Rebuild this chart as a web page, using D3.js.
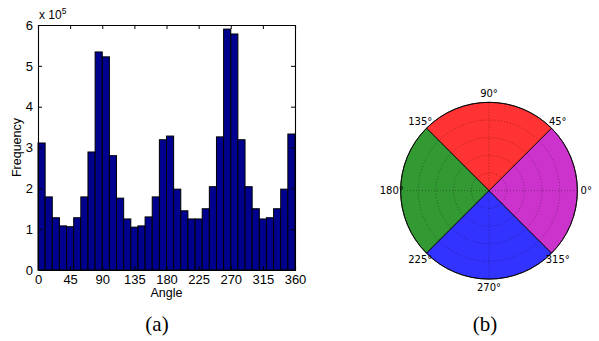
<!DOCTYPE html>
<html>
<head>
<meta charset="utf-8">
<script src="https://cdn.jsdelivr.net/npm/d3@7"></script>
<style>
  body { margin: 0; background: #fff; }
  svg { display: block; }
</style>
</head>
<body>
<div id="chart"></div>
<script>
// histogram of angles, 10 degree bins, values in units of 1e5
var binStarts = d3.range(0, 360, 10);
var freqs = [3.11, 1.79, 1.28, 1.08, 1.06, 1.28, 1.79, 2.89, 5.34, 5.22,
             2.80, 1.76, 1.25, 1.05, 1.08, 1.30, 1.79, 3.19, 3.28, 1.98,
             1.45, 1.25, 1.25, 1.50, 2.04, 3.26, 5.90, 5.78, 3.19, 2.04,
             1.50, 1.25, 1.28, 1.50, 1.98, 3.33];
var xTicks = [0, 45, 90, 135, 180, 225, 270, 315, 360];
var yTicks = [0, 1, 2, 3, 4, 5, 6];

// polar sectors
var sectorStarts = [-45, 45, 135, 225];
var sectorColors = ["#cc33cc", "#ff3333", "#339933", "#3333ff"];
var polarAngles = [0, 45, 90, 135, 180, 225, 270, 315];
var ringFracs = [0.2, 0.4, 0.6, 0.8];

var svg = d3.select("#chart").append("svg")
  .attr("width", 599)
  .attr("height", 341);

// ---- (a) histogram ----
var box = {left: 38, right: 295, top: 25, bottom: 270};

var x = d3.scaleLinear().domain([0, 360]).range([box.left, box.right]);
var y = d3.scaleLinear().domain([0, 6]).range([box.bottom, box.top]);

var hist = svg.append("g");

hist.selectAll("rect.bar")
  .data(freqs)
  .enter()
  .append("rect")
  .attr("class", "bar")
  .attr("x", (d, i) => x(binStarts[i]))
  .attr("y", d => y(d))
  .attr("width", x(10) - x(0))
  .attr("height", d => y(0) - y(d))
  .attr("fill", "#00008f")
  .attr("stroke", "#000")
  .attr("stroke-width", 1);

var tickFont = "Liberation Sans, Arial, sans-serif";

// bottom and top axes, ticks inward
var bottomAxis = d3.axisBottom(x).tickValues(xTicks).tickSize(-4).tickPadding(5);
var gx = hist.append("g")
  .attr("transform", `translate(0, ${box.bottom})`)
  .call(bottomAxis);
var topAxis = d3.axisTop(x).tickValues(xTicks).tickSize(-4).tickFormat("");
var gxt = hist.append("g")
  .attr("transform", `translate(0, ${box.top})`)
  .call(topAxis);

var leftAxis = d3.axisLeft(y).tickValues(yTicks).tickSize(-4).tickPadding(5)
  .tickFormat(d3.format("d"));
var gy = hist.append("g")
  .attr("transform", `translate(${box.left}, 0)`)
  .call(leftAxis);
var rightAxis = d3.axisRight(y).tickValues(yTicks).tickSize(-4).tickFormat("");
var gyr = hist.append("g")
  .attr("transform", `translate(${box.right}, 0)`)
  .call(rightAxis);

[gx, gxt, gy, gyr].forEach(function(g) {
  g.selectAll("path.domain").attr("stroke", "#000").attr("stroke-width", 1.1);
  g.selectAll(".tick line").attr("stroke", "#000");
  g.selectAll(".tick text")
    .attr("fill", "#000")
    .style("font-family", tickFont)
    .style("font-size", "13px");
});
gx.selectAll(".tick line").filter(d => d === 0 || d === 360).remove();
gxt.selectAll(".tick line").filter(d => d === 0 || d === 360).remove();
gy.selectAll(".tick line").filter(d => d === 0 || d === 6).remove();
gyr.selectAll(".tick line").filter(d => d === 0 || d === 6).remove();

// exponent label
var expo = hist.append("text")
  .attr("x", box.left + 1)
  .attr("y", box.top - 6)
  .style("font-family", tickFont)
  .style("font-size", "12px")
  .attr("fill", "#000");
expo.append("tspan").text("x 10");
expo.append("tspan").attr("dy", -5).style("font-size", "8.5px").text("5");

hist.append("text")
  .attr("x", (box.left + box.right) / 2)
  .attr("y", 297)
  .attr("text-anchor", "middle")
  .style("font-family", tickFont)
  .style("font-size", "12.5px")
  .text("Angle");

hist.append("text")
  .attr("transform", `translate(21, ${(box.top + box.bottom) / 2}) rotate(-90)`)
  .attr("text-anchor", "middle")
  .style("font-family", tickFont)
  .style("font-size", "12.5px")
  .text("Frequency");

// ---- (b) polar plot ----
var cx = 489, cy = 190.7, R = 88.4;
var polar = svg.append("g").attr("transform", `translate(${cx}, ${cy})`);

// math angle (deg, counterclockwise from east) -> d3.arc angle (rad, clockwise from north)
var toArc = deg => (90 - deg) * Math.PI / 180;
var arc = d3.arc().innerRadius(0).outerRadius(R);

polar.selectAll("path.sector")
  .data(sectorStarts)
  .enter()
  .append("path")
  .attr("class", "sector")
  .attr("d", d => arc({startAngle: toArc(d + 90), endAngle: toArc(d)}))
  .attr("fill", (d, i) => sectorColors[i])
  .attr("stroke", "#000")
  .attr("stroke-width", 0.8);

// dotted grid
polar.selectAll("circle.ring")
  .data(ringFracs)
  .enter()
  .append("circle")
  .attr("class", "ring")
  .attr("r", d => d * R)
  .attr("fill", "none")
  .attr("stroke", "#000")
  .attr("stroke-opacity", 0.55)
  .attr("stroke-width", 0.6)
  .attr("stroke-dasharray", "1,2");

polar.selectAll("line.spoke")
  .data(polarAngles)
  .enter()
  .append("line")
  .attr("class", "spoke")
  .attr("x1", 0).attr("y1", 0)
  .attr("x2", d => R * Math.cos(d * Math.PI / 180))
  .attr("y2", d => -R * Math.sin(d * Math.PI / 180))
  .attr("stroke", "#000")
  .attr("stroke-opacity", 0.55)
  .attr("stroke-width", 0.6)
  .attr("stroke-dasharray", "1,2");

polar.append("circle")
  .attr("r", R)
  .attr("fill", "none")
  .attr("stroke", "#000")
  .attr("stroke-width", 0.8);

// angle labels centred at 1.1 R
polar.selectAll("text.alabel")
  .data(polarAngles)
  .enter()
  .append("text")
  .attr("class", "alabel")
  .attr("x", d => 1.1 * R * Math.cos(d * Math.PI / 180))
  .attr("y", d => -1.1 * R * Math.sin(d * Math.PI / 180))
  .attr("dy", "0.35em")
  .attr("text-anchor", "middle")
  .style("font-family", "DejaVu Sans, sans-serif")
  .style("font-size", "10px")
  .attr("fill", "#000")
  .text(d => d + "\u00b0");

// ---- captions ----
svg.selectAll("text.caption")
  .data([{t: "(a)", x: 157}, {t: "(b)", x: 485}])
  .enter()
  .append("text")
  .attr("class", "caption")
  .attr("x", d => d.x)
  .attr("y", 331)
  .attr("text-anchor", "middle")
  .style("font-family", "Liberation Serif, Times New Roman, serif")
  .style("font-size", "21px")
  .text(d => d.t);
</script>
</body>
</html>
